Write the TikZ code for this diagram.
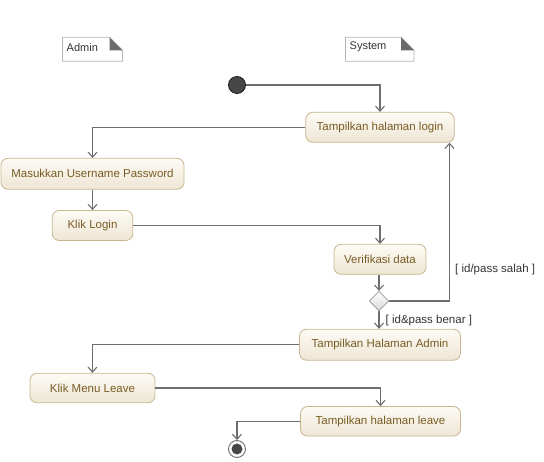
\documentclass[tikz,border=0pt]{standalone}
\usepackage{fontspec}
\setmainfont{Liberation Sans}
\usetikzlibrary{arrows.meta,shapes.geometric}

\definecolor{actborder}{HTML}{C8B68F}
\definecolor{acttop}{HTML}{FDFBF6}
\definecolor{actbot}{HTML}{EEE6D4}
\definecolor{acttext}{HTML}{7A5C24}
\definecolor{flowgray}{HTML}{6E6E6E}
\definecolor{notegray}{HTML}{B4B4B4}
\definecolor{foldgray}{HTML}{6A6A6A}

% x, y, w, h, name, text
\newcommand\mynote[6]{
	\draw[draw=notegray, fill=white, line width=0.8pt] (#1,#2) -- ({#1+#3-13},#2) -- ({#1+#3},{#2+13}) -- ({#1+#3},{#2+#4}) -- (#1,{#2+#4}) -- cycle ;
	\fill[foldgray] ({#1+#3-13},#2) -- ({#1+#3-13},{#2+13}) -- ({#1+#3},{#2+13}) -- cycle ;
	\node[anchor=west, inner sep=0, text=black!80, font=\fontsize{11}{13}\selectfont] (#5) at ({#1+4},{#2+10}) {#6} ;
}

\begin{document}
\begin{tikzpicture}[x=1pt, y=-1pt,
	act/.style={draw=actborder, line width=0.8pt, rounded corners=7pt, top color=acttop, bottom color=actbot,
		text=acttext, font=\fontsize{11.5}{13}\selectfont, inner sep=0, minimum height=30pt},
	flow/.style={draw=flowgray, line width=1.3pt, -{Straight Barb[length=5pt,width=9pt,line width=1.1pt]}},
	guard/.style={anchor=west, inner sep=0, text=black!80, font=\fontsize{11.5}{13}\selectfont}]
	\useasboundingbox (0,0) rectangle (544,462);

	% swimlane notes
	\mynote{62.5}{37.3}{60}{24}{adminlbl}{Admin}
	\mynote{345.5}{37.3}{68.5}{24}{systemlbl}{System}

	% start and end
	\node[circle, draw=black!90, fill=black!72, line width=0.8pt, minimum size=17pt, inner sep=0] (start) at (237,85) {};
	\node[circle, draw=flowgray, fill=white, line width=0.9pt, minimum size=17pt, inner sep=0] (end) at (237,449) {};
	\fill[black!72] (end.center) circle (5.5pt);

	% activities
	\node[act, minimum width=148.5pt] (login) at (380,127.3) {Tampilkan halaman login};
	\node[act, minimum width=183pt, minimum height=31pt] (masuk) at (92.5,173.8) {Masukkan Username Password};
	\node[act, minimum width=80.5pt] (kliklogin) at (92.5,225.5) {Klik Login};
	\node[act, minimum width=92pt] (verif) at (380,259.3) {Verifikasi data};
	\node[diamond, draw=black!40, top color=white, bottom color=black!15, line width=0.8pt, minimum size=19.5pt, inner sep=0] (dec) at (379,301) {};
	\node[act, minimum width=161pt, minimum height=31pt] (adminpg) at (380,344.7) {Tampilkan Halaman Admin};
	\node[act, minimum width=125pt, minimum height=29.5pt] (menu) at (92.5,388) {Klik Menu Leave};
	\node[act, minimum width=160pt, minimum height=29.5pt] (leave) at (380.5,421.3) {Tampilkan halaman leave};

	% guards
	\node[guard] (salah) at (455,270) {[ id/pass salah ]};
	\node[guard] (benar) at (385.5,320.7) {[ id\&pass benar ]};
	\coordinate (loop) at (449.5,301);

	% start to login
	\draw[flow] (start.east) -| (login.north);
	% login to masukkan
	\draw[flow] (login.west) -| (masuk.north);
	% masukkan to klik login
	\draw[flow] (masuk) -- (kliklogin);
	% klik login to verifikasi
	\draw[flow] (kliklogin.east) -| (verif.north);
	% verifikasi to decision
	\draw[flow] (verif.south -| dec) -- (dec);
	% wrong back to login
	\draw[flow] (dec.east) -- (loop) -- (loop |- login.south);
	% right to admin page
	\draw[flow] (dec) -- (dec |- adminpg.north);
	% admin page to menu
	\draw[flow] (adminpg.west) -| (menu.north);
	% menu to leave page
	\draw[flow] (menu.east) -| (leave.north);
	% leave page to end
	\draw[flow] (leave.west) -| (end.north);
\end{tikzpicture}
\end{document}
